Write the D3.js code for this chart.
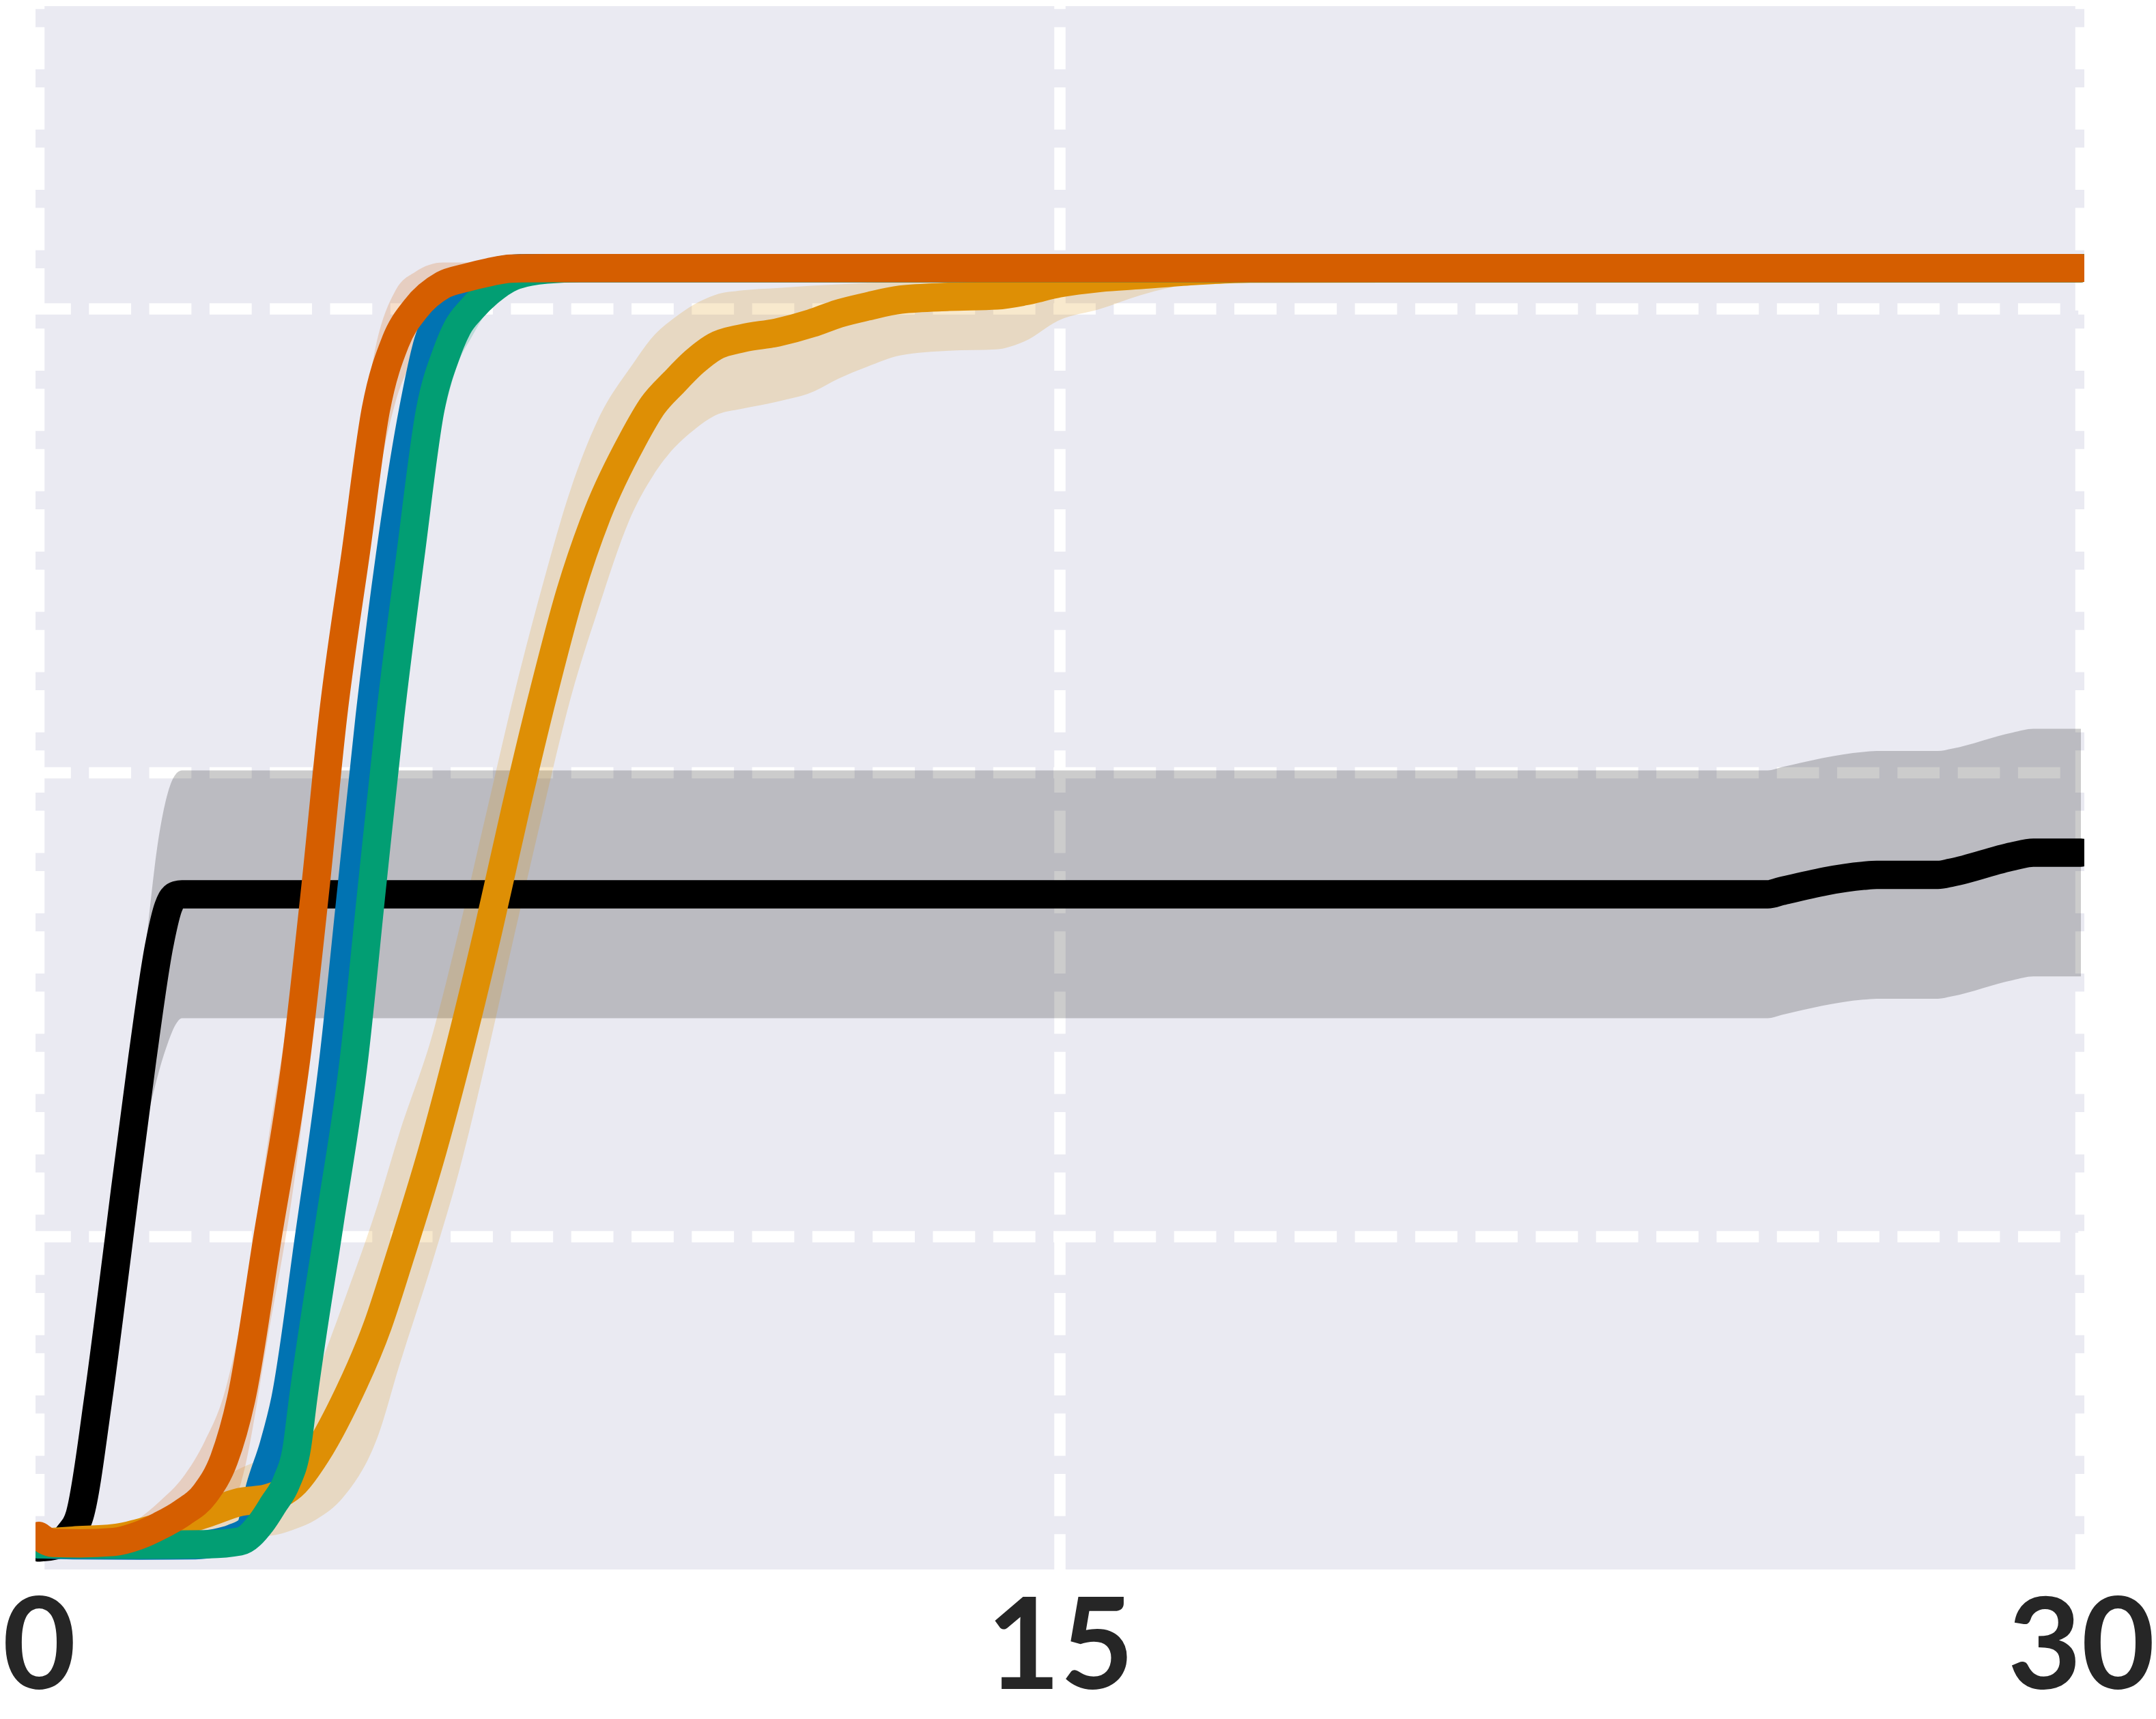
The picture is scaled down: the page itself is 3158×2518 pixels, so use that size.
<!DOCTYPE html>
<html><head><meta charset="utf-8">
<script src="https://cdn.jsdelivr.net/npm/d3@7"></script>
<style>html,body{margin:0;padding:0;background:#fff}</style>
</head><body>
<svg id="chart" width="3158" height="2518"></svg>
<script>
// ---- data ----
const xTicks = [0, 15, 30];
const xTickLabels = ["0", "15", "30"];
const yGrid = [1, 2, 3];

const blackX    = [0, 0.25, 0.45, 0.6, 0.87, 1.08, 1.18, 1.27, 1.52, 1.77, 1.9, 2.0, 2.1, 25.4, 25.6, 26.8, 27.0, 27.9, 28.1, 29.0, 29.3, 30];
const blackMean = [0.33, 0.335, 0.36, 0.40, 0.649, 0.884, 1.0, 1.105, 1.385, 1.63, 1.71, 1.735, 1.738, 1.738, 1.745, 1.778, 1.78, 1.78, 1.785, 1.82, 1.828, 1.828];
const blackHi   = [0.335, 0.34, 0.37, 0.43, 0.75, 1.0, 1.12, 1.23, 1.56, 1.87, 1.96, 1.995, 2.005, 2.005, 2.012, 2.045, 2.047, 2.047, 2.052, 2.087, 2.095, 2.095];
const blackLo   = [0.325, 0.33, 0.35, 0.38, 0.55, 0.77, 0.88, 0.98, 1.20, 1.36, 1.42, 1.455, 1.471, 1.471, 1.478, 1.511, 1.513, 1.513, 1.518, 1.553, 1.561, 1.561];

const blueX    = [0, 0.5, 1.5, 2.3, 2.6, 2.85, 3.1, 3.25, 3.45, 3.62, 3.97, 4.33, 4.6, 4.86, 5.16, 5.5, 5.72, 5.97, 6.27, 6.67, 7.17, 30];
const blueMean = [0.337, 0.335, 0.334, 0.335, 0.34, 0.35, 0.37, 0.46, 0.55, 0.649, 1.0, 1.385, 1.76, 2.121, 2.47, 2.783, 2.93, 3.0, 3.05, 3.08, 3.088, 3.088];
const blueHi   = [0.34, 0.338, 0.337, 0.34, 0.35, 0.37, 0.41, 0.53, 0.64, 0.76, 1.12, 1.52, 1.9, 2.25, 2.6, 2.88, 2.99, 3.04, 3.07, 3.085, 3.088, 3.088];
const blueLo   = [0.334, 0.332, 0.331, 0.332, 0.335, 0.34, 0.35, 0.40, 0.47, 0.55, 0.88, 1.25, 1.62, 1.99, 2.34, 2.67, 2.85, 2.95, 3.02, 3.07, 3.085, 3.088];

const amberX    = [0, 0.5, 1.1, 1.8, 2.45, 2.95, 3.35, 3.77, 4.07, 4.48, 4.98, 5.29, 5.79, 6.17, 6.6, 7.0, 7.41, 7.81, 8.21, 8.72, 9.02, 9.33, 9.63, 9.93, 10.34, 10.84, 11.35, 11.75, 12.16, 12.66, 13.37, 14.07, 14.48, 14.98, 15.59, 16.19, 17.0, 17.8, 30];
const amberMean = [0.34, 0.345, 0.35, 0.375, 0.403, 0.428, 0.436, 0.47, 0.53, 0.64, 0.81, 0.95, 1.19, 1.40, 1.66, 1.92, 2.17, 2.39, 2.56, 2.717, 2.792, 2.842, 2.886, 2.919, 2.937, 2.949, 2.969, 2.99, 3.005, 3.02, 3.026, 3.029, 3.038, 3.055, 3.067, 3.073, 3.082, 3.087, 3.088];
const amberHi   = [0.345, 0.35, 0.36, 0.40, 0.46, 0.50, 0.53, 0.60, 0.70, 0.86, 1.07, 1.22, 1.44, 1.66, 1.93, 2.18, 2.41, 2.61, 2.76, 2.88, 2.94, 2.98, 3.01, 3.03, 3.04, 3.045, 3.05, 3.053, 3.056, 3.058, 3.062, 3.066, 3.07, 3.074, 3.078, 3.081, 3.085, 3.088, 3.088];
const amberLo   = [0.335, 0.34, 0.342, 0.35, 0.36, 0.36, 0.355, 0.37, 0.39, 0.44, 0.57, 0.72, 0.95, 1.14, 1.40, 1.66, 1.92, 2.16, 2.35, 2.56, 2.64, 2.70, 2.74, 2.77, 2.785, 2.80, 2.82, 2.85, 2.875, 2.90, 2.91, 2.913, 2.93, 2.975, 3.0, 3.03, 3.058, 3.08, 3.088];

const greenX    = [0, 0.5, 1.5, 2.5, 2.95, 3.27, 3.44, 3.64, 3.79, 3.88, 4.26, 4.63, 4.89, 5.16, 5.46, 5.75, 5.99, 6.15, 6.36, 6.61, 6.96, 7.46, 7.96, 30];
const greenMean = [0.337, 0.337, 0.336, 0.337, 0.343, 0.384, 0.422, 0.472, 0.546, 0.649, 1.02, 1.385, 1.75, 2.121, 2.47, 2.783, 2.905, 2.96, 3.0, 3.036, 3.07, 3.085, 3.088, 3.088];
const greenHi   = [0.34, 0.34, 0.34, 0.342, 0.355, 0.41, 0.46, 0.53, 0.63, 0.75, 1.15, 1.53, 1.9, 2.25, 2.6, 2.88, 2.98, 3.02, 3.05, 3.07, 3.085, 3.088, 3.088, 3.088];
const greenLo   = [0.334, 0.333, 0.332, 0.333, 0.335, 0.36, 0.385, 0.415, 0.46, 0.54, 0.88, 1.23, 1.6, 1.97, 2.32, 2.64, 2.8, 2.88, 2.94, 3.0, 3.05, 3.08, 3.088, 3.088];

const redX    = [0, 0.2, 0.6, 1.1, 1.45, 1.78, 2.11, 2.44, 2.72, 2.97, 3.36, 3.78, 4.06, 4.32, 4.66, 4.95, 5.24, 5.53, 5.94, 6.27, 6.61, 6.94, 7.5, 30];
const redMean = [0.355, 0.34, 0.339, 0.342, 0.355, 0.377, 0.405, 0.446, 0.52, 0.649, 1.0, 1.385, 1.75, 2.121, 2.48, 2.783, 2.93, 3.0, 3.052, 3.067, 3.079, 3.087, 3.088, 3.088];
const redHi   = [0.36, 0.345, 0.345, 0.36, 0.39, 0.43, 0.48, 0.56, 0.66, 0.82, 1.2, 1.6, 1.95, 2.3, 2.65, 2.92, 3.04, 3.08, 3.1, 3.1, 3.095, 3.09, 3.088, 3.088];
const redLo   = [0.35, 0.335, 0.333, 0.333, 0.335, 0.34, 0.35, 0.37, 0.40, 0.47, 0.78, 1.15, 1.5, 1.9, 2.28, 2.6, 2.8, 2.9, 2.97, 3.02, 3.06, 3.08, 3.088, 3.088];

const seriesNames  = ["black", "blue", "amber", "green", "red"];
const seriesColors = ["#000000", "#0173b2", "#de8f05", "#029e73", "#d55e00"];

// ---- build ----
const series = [
  {x: blackX, m: blackMean, lo: blackLo, hi: blackHi},
  {x: blueX,  m: blueMean,  lo: blueLo,  hi: blueHi},
  {x: amberX, m: amberMean, lo: amberLo, hi: amberHi},
  {x: greenX, m: greenMean, lo: greenLo, hi: greenHi},
  {x: redX,   m: redMean,   lo: redLo,   hi: redHi}
].map((s, i) => ({
  name: seriesNames[i], color: seriesColors[i],
  pts: s.x.map((xv, j) => ({x: xv, m: s.m[j], lo: s.lo[j], hi: s.hi[j]}))
}));

const axL = 52, axR = 3053, axT = 9, axB = 2299;
const x = d3.scaleLinear().domain([-0.05, 30.05]).range([axL, axR]);
const y = d3.scaleLinear().domain([0.2826, 3.6527]).range([axB, axT]);

const svg = d3.select("#chart");
svg.append("defs").append("clipPath").attr("id", "axclip")
  .append("rect").attr("x", axL).attr("y", axT).attr("width", axR - axL).attr("height", axB - axT);

svg.append("rect").attr("x", axL).attr("y", axT).attr("width", axR - axL).attr("height", axB - axT)
  .attr("fill", "#eaeaf2");

const plot = svg.append("g").attr("clip-path", "url(#axclip)");

// grid
plot.append("g").selectAll("path").data(yGrid).join("path")
  .attr("d", d => `M${axL},${y(d)}H${axR}`)
  .attr("stroke", "#fff").attr("stroke-width", 16.5)
  .attr("stroke-dasharray", "61.8 26.5").attr("stroke-dashoffset", 10).attr("fill", "none");
plot.append("g").selectAll("path").data(xTicks).join("path")
  .attr("d", d => `M${x(d)},${axB}V${axT}`)
  .attr("stroke", "#fff").attr("stroke-width", 16.5)
  .attr("stroke-dasharray", "61.8 26.5").attr("stroke-dashoffset", 10).attr("fill", "none");

// bands
const area = d3.area().x(d => x(d.x)).y0(d => y(d.lo)).y1(d => y(d.hi)).curve(d3.curveMonotoneX);
plot.append("g").selectAll("path").data(series).join("path")
  .attr("d", s => area(s.pts)).attr("fill", s => s.color).attr("fill-opacity", 0.2).attr("stroke", "none");

// lines
const line = d3.line().x(d => x(d.x)).y(d => y(d.m)).curve(d3.curveMonotoneX);
plot.append("g").selectAll("path").data(series).join("path")
  .attr("d", s => line(s.pts)).attr("fill", "none").attr("stroke", s => s.color)
  .attr("stroke-width", 41.5).attr("stroke-linejoin", "round").attr("stroke-linecap", "round");

// x axis labels
const ax = svg.append("g")
  .call(d3.axisBottom(x).tickValues(xTicks).tickFormat((d, i) => xTickLabels[i]).tickSize(0));
ax.select(".domain").remove();
ax.selectAll("text")
  .attr("y", 2474).attr("dy", null)
  .attr("font-family", "Lato, 'Open Sans', sans-serif")
  .attr("font-weight", 700).attr("font-size", 186).attr("fill", "#262626");
</script>
</body></html>
